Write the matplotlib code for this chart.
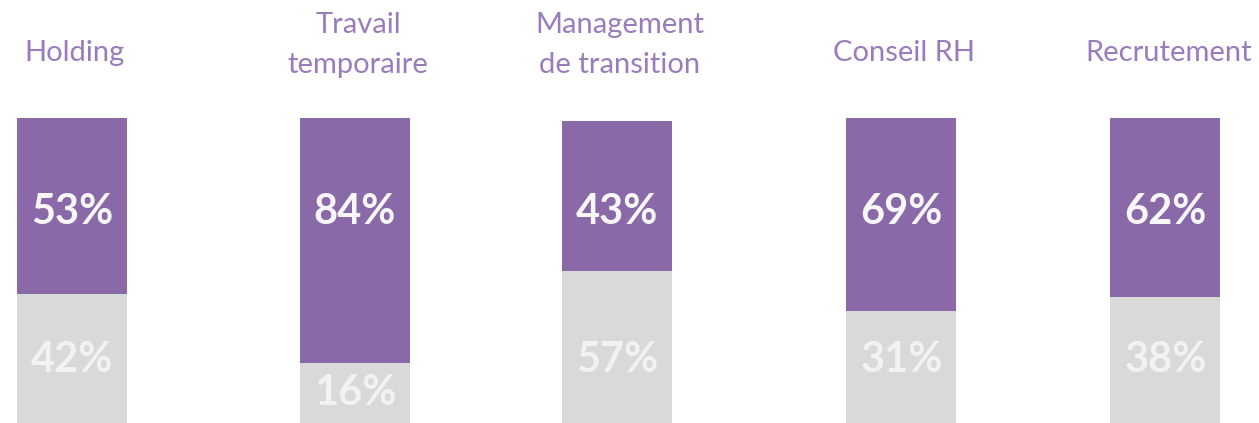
import matplotlib.pyplot as plt

plt.switch_backend("agg")

# --- data ---
categories = ["Holding", "Travail\ntemporaire", "Management\nde transition",
              "Conseil RH", "Recrutement"]
top_labels = ["53%", "84%", "43%", "69%", "62%"]
bottom_labels = ["42%", "16%", "57%", "31%", "38%"]
# segment heights as drawn in the picture (share of a full bar)
top_share = [57.7, 80.3, 49.2, 63.3, 58.7]
bottom_share = [42.3, 19.7, 49.8, 36.7, 41.3]

# --- layout (pixel-based, figure is 1259 x 423) ---
W, H, DPI = 1259, 423, 100
x_pos = [72, 355, 617, 901.5, 1165.5]
bar_w = 110
px_per_unit = 3.05          # 100% bar = 305 px
PURPLE = "#8a69a9"
GREY = "#d9d9d9"
LABEL_PURPLE = "#9a7cbc"
NUM_WHITE = "#f7f7f7"
NUM_GREY = "#f2f2f2"

fig = plt.figure(figsize=(W / DPI, H / DPI), dpi=DPI, facecolor="white")
ax = fig.add_axes([0, 0, 1, 1])
ax.set_xlim(0, W)
ax.set_ylim(0, H / px_per_unit)
ax.axis("off")

ax.bar(x_pos, bottom_share, width=bar_w, color=GREY, linewidth=0)
ax.bar(x_pos, top_share, bottom=bottom_share, width=bar_w, color=PURPLE,
       linewidth=0)


def ypix(p):
    """pixel row from top -> data y"""
    return (H - p) / px_per_unit


for x, cat, tl, bl, g in zip(x_pos, categories, top_labels, bottom_labels,
                             bottom_share):
    # category label
    lines = cat.split("\n")
    baselines = [61] if len(lines) == 1 else [33, 73]
    for line, b in zip(lines, baselines):
        ax.text(x + 3, ypix(b), line, ha="center", va="baseline",
                fontsize=21, family="Lato", fontweight="normal",
                color=LABEL_PURPLE)
    # values
    ax.text(x, ypix(212), tl, ha="center", va="center", fontsize=30,
            family="Lato", fontweight="bold", color=NUM_WHITE)
    yb = ypix(360) if g > 30 else g / 2
    ax.text(x, yb, bl, ha="center", va="center", fontsize=30,
            family="Lato", fontweight="bold", color=NUM_GREY)

fig.savefig("out.png", dpi=DPI)
plt.close(fig)
